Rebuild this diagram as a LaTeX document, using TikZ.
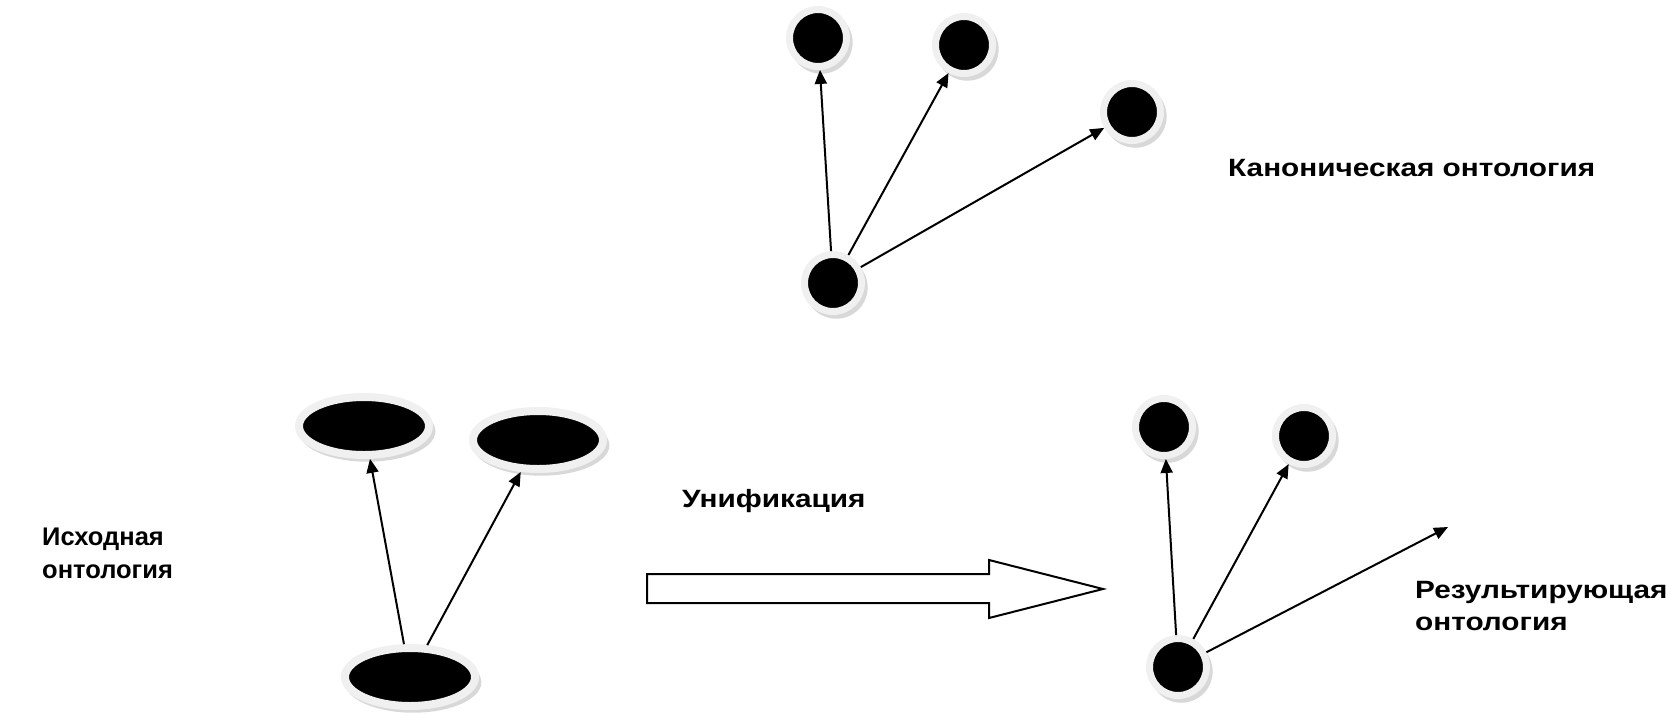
\documentclass[tikz,border=0pt]{standalone}
\usepackage{fontspec}
\setmainfont{Liberation Sans}
\newfontfamily\widefont{Liberation Sans}[FakeStretch=1.19]
\usetikzlibrary{arrows.meta,shapes.geometric,shadows}
\tikzset{
  dot/.style={circle,fill=black,draw=black!6,line width=7pt,inner sep=0pt,minimum size=57pt,
    drop shadow={shadow xshift=3pt,shadow yshift=-4pt,shadow scale=1.1,fill=black!30}},
  blob/.style={ellipse,fill=black,draw=black!6,line width=8pt,inner sep=0pt,minimum width=130pt,minimum height=58pt,
    drop shadow={shadow xshift=3pt,shadow yshift=-5pt,shadow scale=1.05,fill=black!30}},
  lbl/.style={anchor=base west,align=left,inner sep=0pt,font=\widefont\fontsize{25}{32}\selectfont\bfseries},
  plain lbl/.style={lbl,font=\fontsize{25.5}{33}\selectfont\bfseries},
  link/.style={->,line width=2pt}
}
\begin{document}
\begin{tikzpicture}[x=1pt,y=-1pt,>={Triangle[length=14pt,width=12pt]}]
\useasboundingbox(0,0)rectangle(1666,718);
% canonical ontology
\node[dot](c0)at(833,283){};
\node[dot](c1)at(818,38){};
\node[dot](c2)at(964,45){};
\node[dot](c3)at(1132,112){};
\draw[link](c0)--(c1);
\draw[link](c0)--(c2);
\draw[link](c0)--(c3);
\node[lbl](ctxt)at(1228,176){Каноническая онтология};
%
% source ontology
\node[blob](s0)at(410,677){};
\node[blob](s1)at(364,426){};
\node[blob](s2)at(538,440){};
\draw[link](s0)--(s1);
\draw[link](s0)--(s2);
\node[plain lbl](stxt)at(42,578){Исходная\\онтология};
%
% unification
\draw[line width=2pt,line join=miter](647,574)--(989,574)--(989,560)--(1103,589)--(989,618)--(989,603)--(647,603)--cycle;
\node[lbl](utxt)at(682,507){Унификация};
%
% resulting ontology
\node[dot](r0)at(1178,667){};
\node[dot](r1)at(1164,427){};
\node[dot](r2)at(1304,436){};
\coordinate(r3)at(1448,527);
\draw[link](r0)--(r1);
\draw[link](r0)--(r2);
\draw[link](r0)--(r3);
\node[lbl](rtxt)at(1415,630){Результирующая\\онтология};
\end{tikzpicture}
\end{document}
